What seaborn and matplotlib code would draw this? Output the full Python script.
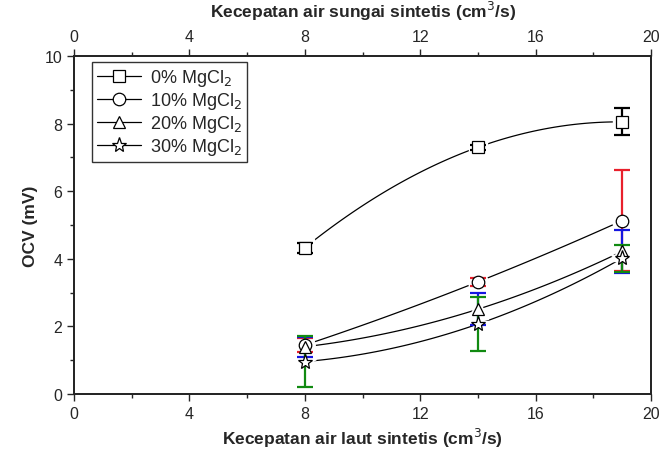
import numpy as np
import pandas as pd
import matplotlib
matplotlib.use("Agg")
import matplotlib.pyplot as plt
from matplotlib.lines import Line2D
from matplotlib.ticker import MultipleLocator
import seaborn as sns

# data
speed = [8, 14, 19]
labels = ["0% MgCl$_2$", "10% MgCl$_2$", "20% MgCl$_2$", "30% MgCl$_2$"]
ocv_0 = [4.33, 7.30, 8.05]
ocv_10 = [1.45, 3.32, 5.13]
ocv_20 = [1.40, 2.51, 4.22]
ocv_30 = [0.96, 2.07, 4.02]
err_0 = [0.15, 0.08, 0.40]
err_10 = [0.20, 0.12, 1.50]
err_20 = [0.30, 0.48, 0.63]
err_30 = [0.76, 0.80, 0.40]

series = [ocv_0, ocv_10, ocv_20, ocv_30]
errors = [err_0, err_10, err_20, err_30]
markers = ["s", "o", "^", "*"]
err_colors = ["black", "#e8202c", "#1515e0", "#118a11"]
msizes = [8, 9, 9, 11]

sns.set_theme(style="ticks")
plt.rcParams["font.family"] = ["Liberation Sans", "DejaVu Sans"]

fig = plt.figure(figsize=(6.61, 4.52), dpi=100)
ax = fig.add_axes([0.112, 0.126, 0.873, 0.748])

# smooth connecting curves (Origin-style spline through the 3 points)
rows = []
for lab, y in zip(labels, series):
    coef = np.polyfit(speed, y, 2)
    xs = np.linspace(speed[0], speed[-1], 100)
    for xv, yv in zip(xs, np.polyval(coef, xs)):
        rows.append({"speed": xv, "ocv": yv, "series": lab})
curves = pd.DataFrame(rows)
sns.lineplot(data=curves, x="speed", y="ocv", units="series", estimator=None,
             color="black", linewidth=0.9, ax=ax, legend=False)

for y, e, m, c, ms in zip(series, errors, markers, err_colors, msizes):
    # white halo gives the gap between curve and marker
    ax.plot(speed, y, linestyle="none", marker=m, markersize=ms + 5,
            markerfacecolor="white", markeredgecolor="white", zorder=2.5)
    ax.errorbar(speed, y, yerr=e, fmt="none", ecolor=c, elinewidth=1.6,
                capsize=6, capthick=1.6, zorder=3)
    ax.plot(speed, y, linestyle="none", marker=m, markersize=ms,
            markerfacecolor="white", markeredgecolor="black",
            markeredgewidth=0.9, zorder=4)

ax.set_xlim(0, 20)
ax.set_ylim(0, 10)
ax.xaxis.set_major_locator(MultipleLocator(4))
ax.xaxis.set_minor_locator(MultipleLocator(2))
ax.yaxis.set_major_locator(MultipleLocator(2))
ax.yaxis.set_minor_locator(MultipleLocator(1))
ax.tick_params(which="both", direction="out", width=1, labelsize=11.5)
ax.tick_params(which="major", length=5)
ax.tick_params(which="minor", length=3)
ax.tick_params(axis="y", which="both", right=False)
for s in ax.spines.values():
    s.set_linewidth(1.2)
    s.set_color("black")

ax.set_xlabel("Kecepatan air laut sintetis (cm$^3$/s)", fontsize=12.5, fontweight="bold")
ax.xaxis.set_label_coords(0.5, -0.095)
ax.set_ylabel("OCV (mV)", fontsize=12.5, fontweight="bold", labelpad=5)

top = ax.twiny()
top.set_xlim(0, 20)
top.xaxis.set_major_locator(MultipleLocator(4))
top.xaxis.set_minor_locator(MultipleLocator(2))
top.tick_params(which="both", direction="out", width=1, labelsize=11.5)
top.tick_params(which="major", length=5)
top.tick_params(which="minor", length=3)
top.set_xlabel("Kecepatan air sungai sintetis (cm$^3$/s)", fontsize=12.5, fontweight="bold", labelpad=9)

handles = [Line2D([0], [0], color="black", linewidth=0.9, marker=m, markersize=ms,
                  markerfacecolor="white", markeredgecolor="black", markeredgewidth=0.9)
           for m, ms in zip(markers, msizes)]
leg = ax.legend(handles, labels, loc="upper left", bbox_to_anchor=(0.031, 0.982),
                borderaxespad=0, fontsize=13, frameon=True, fancybox=False,
                edgecolor="black", handlelength=2.4, borderpad=0.3,
                labelspacing=0.1, handletextpad=0.5)
leg.get_frame().set_linewidth(1.0)

plt.savefig("out.png", dpi=100)
